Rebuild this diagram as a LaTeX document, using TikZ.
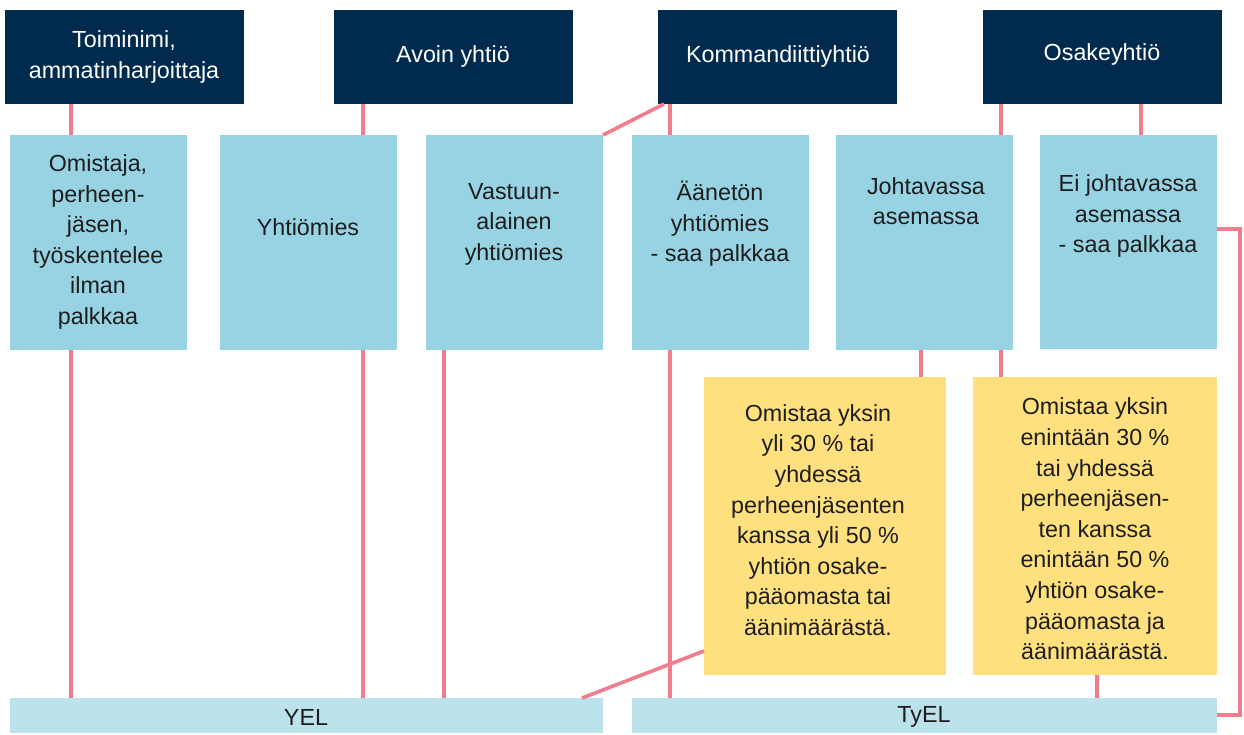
\documentclass[tikz,border=0pt]{standalone}
\usepackage{fontspec}
\setmainfont{Liberation Sans}
\definecolor{navy}{HTML}{002A4E}
\definecolor{lblue}{HTML}{97D3E3}
\definecolor{bar}{HTML}{BCE2EC}
\definecolor{yel}{HTML}{FFE07F}
\definecolor{pink}{HTML}{F07C8C}
\definecolor{txt}{HTML}{1E1E1E}
\begin{document}
\begin{tikzpicture}[x=1pt,y=-1pt,
  box/.style={inner sep=0pt,outer sep=0pt,anchor=north west},
  dark/.style={box,fill=navy},
  blue/.style={box,fill=lblue},
  barbox/.style={box,fill=bar},
  ybox/.style={box,fill=yel},
  lbl/.style={align=center,inner sep=0pt,text=txt,font=\fontsize{23.3}{30.6}\selectfont},
  wlbl/.style={lbl,text=white},
  conn/.style={draw=pink,line width=3.6pt}]
\useasboundingbox (0,0) rectangle (1244,734);
% top boxes
\node[dark,minimum width=239pt,minimum height=94pt] (d1) at (5,10) {};
\node[dark,minimum width=239pt,minimum height=94pt] (d2) at (334,10) {};
\node[dark,minimum width=239pt,minimum height=94pt] (d3) at (658,10) {};
\node[dark,minimum width=239pt,minimum height=94pt] (d4) at (983,10) {};
% blue boxes
\node[blue,minimum width=177pt,minimum height=215pt] (b1) at (10,135) {};
\node[blue,minimum width=177pt,minimum height=215pt] (b2) at (220,135) {};
\node[blue,minimum width=177pt,minimum height=215pt] (b3) at (426,135) {};
\node[blue,minimum width=177pt,minimum height=215pt] (b4) at (632,135) {};
\node[blue,minimum width=177pt,minimum height=215pt] (b5) at (836,135) {};
\node[blue,minimum width=177pt,minimum height=214pt] (b6) at (1040,135) {};
% yellow boxes
\node[ybox,minimum width=242pt,minimum height=298pt] (y1) at (704,377) {};
\node[ybox,minimum width=244pt,minimum height=298pt] (y2) at (973,377) {};
% bars
\node[barbox,minimum width=593pt,minimum height=35pt] (yel) at (10,698) {};
\node[barbox,minimum width=585pt,minimum height=35pt] (tyel) at (632,698) {};
% connectors
\draw[conn] (d1.south -| 71,0) -- (b1.north -| 71,0);
\draw[conn] (b1.south -| 71,0) -- (yel.north -| 71,0);
\draw[conn] (d2.south -| 363,0) -- (b2.north -| 363,0);
\draw[conn] (b2.south -| 363,0) -- (yel.north -| 363,0);
\draw[conn] (b3.south -| 444,0) -- (yel.north -| 444,0);
\draw[conn] (d3.south -| 664,0) -- (b3.north east);
\draw[conn] (d3.south -| 670,0) -- (b4.north -| 670,0);
\draw[conn] (b4.south -| 670,0) -- (tyel.north -| 670,0);
\draw[conn] (d4.south -| 1001,0) -- (b5.north -| 1001,0);
\draw[conn] (d4.south -| 1141,0) -- (b6.north -| 1141,0);
\draw[conn] (b5.south -| 921,0) -- (y1.north -| 921,0);
\draw[conn] (b5.south -| 1001,0) -- (y2.north -| 1001,0);
\draw[conn] (y1.west |- 0,651) -- (yel.north -| 582,0);
\draw[conn] (y2.south -| 1097,0) -- (tyel.north -| 1097,0);
\draw[conn] (b6.east |- 0,229) -- (1240,229) -- (1240,715) -- (tyel.east |- 0,715);
% labels
\node[wlbl] (t1) at (124,57) {Toiminimi,\\ammatinharjoittaja};
\node[wlbl] (t2) at (453,56) {Avoin yhtiö};
\node[wlbl] (t3) at (778,56) {Kommandiittiyhtiö};
\node[wlbl] (t4) at (1102,54) {Osakeyhtiö};
\node[lbl] (u1) at (98,242) {Omistaja,\\perheen-\\jäsen,\\työskentelee\\ilman\\palkkaa};
\node[lbl] (u2) at (308,227) {Yhtiömies};
\node[lbl] (u3) at (514,224) {Vastuun-\\alainen\\yhtiömies};
\node[lbl] (u4) at (720,224) {Äänetön\\yhtiömies\\- saa palkkaa};
\node[lbl] (u5) at (926,201) {Johtavassa\\asemassa};
\node[lbl] (u6) at (1128,216) {Ei johtavassa\\asemassa\\- saa palkkaa};
\node[lbl] (v1) at (818,520) {Omistaa yksin\\yli 30 \% tai\\yhdessä\\perheenjäsenten\\kanssa yli 50 \%\\yhtiön osake-\\pääomasta tai\\äänimäärästä.};
\node[lbl] (v2) at (1095,529) {Omistaa yksin\\enintään 30 \%\\tai yhdessä\\perheenjäsen-\\ten kanssa\\enintään 50 \%\\yhtiön osake-\\pääomasta ja\\äänimäärästä.};
\node[lbl] (w1) at (306,717) {YEL};
\node[lbl] (w2) at (924,717) {TyEL};
\end{tikzpicture}
\end{document}
